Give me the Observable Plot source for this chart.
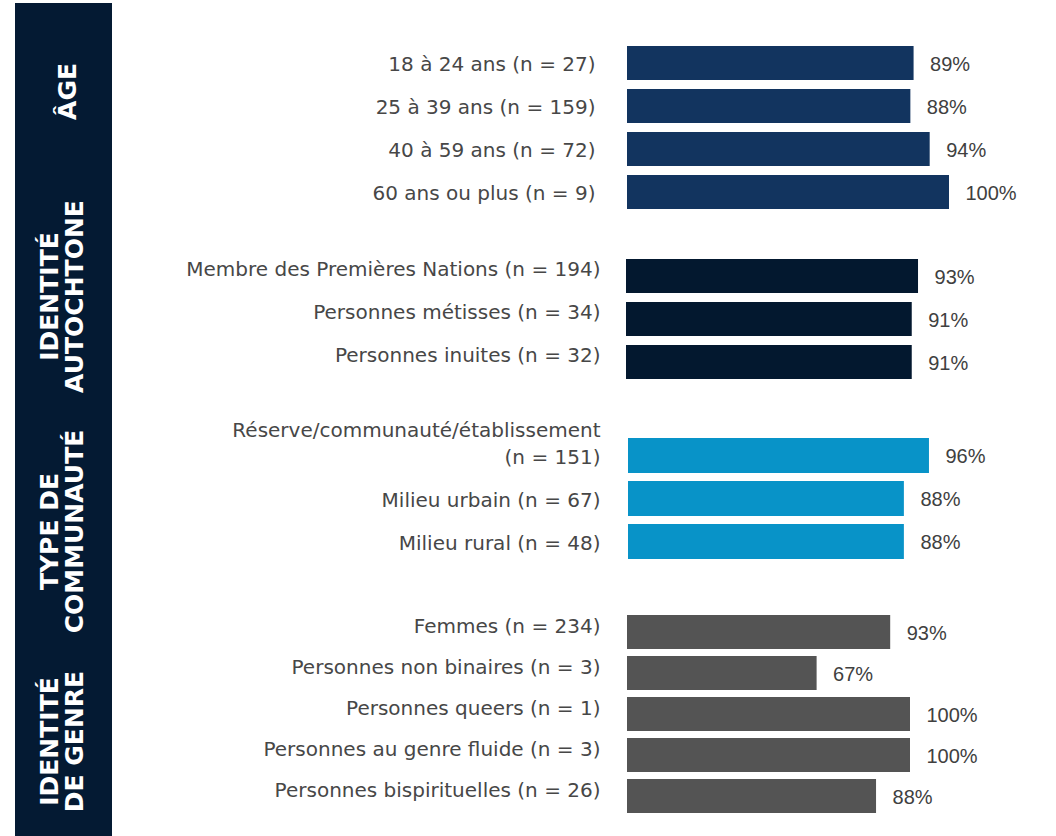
<!DOCTYPE html>
<html>
<head>
<meta charset="utf-8">
<script src="https://cdn.jsdelivr.net/npm/d3@7"></script>
<script src="https://cdn.jsdelivr.net/npm/@observablehq/plot@0.6"></script>
<style>
  html, body { margin: 0; padding: 0; background: #ffffff; }
  #chart { position: relative; width: 1056px; height: 836px; overflow: hidden; }
  #chart svg { display: block; max-width: none; }
</style>
</head>
<body>
<div id="chart"></div>
<script>
// ---------- data ----------
const groupTitles = ["ÂGE", "IDENTITÉ\nAUTOCHTONE", "TYPE DE\nCOMMUNAUTÉ", "IDENTITÉ\nDE GENRE"];

const ageLabels = ["18 à 24 ans (n = 27)", "25 à 39 ans (n = 159)", "40 à 59 ans (n = 72)", "60 ans ou plus (n = 9)"];
const ageValues = [0.89, 0.88, 0.94, 1.00];

const identityLabels = ["Membre des Premières Nations (n = 194)", "Personnes métisses (n = 34)", "Personnes inuites (n = 32)"];
const identityValues = [0.93, 0.91, 0.91];

const communityLabels = ["Réserve/communauté/établissement\n(n = 151)", "Milieu urbain (n = 67)", "Milieu rural (n = 48)"];
const communityValues = [0.96, 0.88, 0.88];

const genderLabels = ["Femmes (n = 234)", "Personnes non binaires (n = 3)", "Personnes queers (n = 1)", "Personnes au genre fluide (n = 3)", "Personnes bispirituelles (n = 26)"];
const genderValues = [0.93, 0.67, 1.00, 1.00, 0.88];

// ---------- layout / style ----------
const groups = [
  {labels: ageLabels, values: ageValues, color: "#12345f", x0: 627, x100: 949, first: 63.3, last: 192.5, labelRight: 595, labelDy: -1, lineAnchor: "middle"},
  {labels: identityLabels, values: identityValues, color: "#03182f", x0: 626, x100: 940, first: 276, last: 362.5, labelRight: 600, labelDy: -9, lineAnchor: "middle"},
  {labels: communityLabels, values: communityValues, color: "#0893c8", x0: 628, x100: 941.5, first: 455.5, last: 541.5, labelRight: 600, labelDy: 8, lineAnchor: "bottom"},
  {labels: genderLabels, values: genderValues, color: "#545454", x0: 627, x100: 910, first: 631, last: 797.5, labelRight: 600, labelDy: -8, lineAnchor: "middle"}
];
const barHeight = 34.5;
const titleLayout = [
  {x: 67, y: 91},
  {x: 61.5, y: 296},
  {x: 61.5, y: 531},
  {x: 61.5, y: 741}
];

const W = 1056, H = 836;
const chart = document.getElementById("chart");

// frame: dark band + rotated group titles (base SVG)
const base = Plot.plot({
  width: W, height: H, margin: 0,
  style: {background: "#ffffff"},
  x: {type: "identity"}, y: {type: "identity"},
  marks: [
    Plot.rect([0], {x1: () => 15, x2: () => 112, y1: () => 3, y2: () => H, fill: "#041a33"}),
    Plot.text(groupTitles, {
      x: (d, i) => titleLayout[i].x,
      y: (d, i) => titleLayout[i].y,
      text: d => d,
      rotate: -90,
      textAnchor: "middle",
      lineAnchor: "middle",
      lineHeight: 1,
      fontFamily: "DejaVu Sans",
      fontWeight: "bold",
      fontSize: 25,
      fill: "#ffffff"
    })
  ]
});
chart.appendChild(base);

// one plot per group (each has its own x scale); its marks are moved into the base SVG
for (const g of groups) {
  const data = g.labels.map((label, i) => ({label, value: g.values[i]}));
  const n = g.labels.length;
  const step = (g.last - g.first) / (n - 1);
  const pI = 1 - barHeight / step;
  const p = Plot.plot({
    width: W, height: H, margin: 0,
    x: {domain: [0, 1], range: [g.x0, g.x100], axis: null},
    y: {type: "band", domain: g.labels, range: [g.first - step / 2, g.last + step / 2],
        paddingInner: pI, paddingOuter: pI / 2, axis: null},
    marks: [
      Plot.barX(data, {x: "value", y: "label", fill: g.color}),
      Plot.text(data, {
        x: () => 0, y: "label", text: "label",
        textAnchor: "end", dx: g.labelRight - g.x0, dy: g.labelDy,
        lineAnchor: g.lineAnchor, lineHeight: 1.36,
        fontFamily: "DejaVu Sans", fontSize: 20, fill: "#474747"
      }),
      Plot.text(data, {
        x: "value", y: "label", text: d => Math.round(d.value * 100) + "%",
        textAnchor: "start", dx: 16, dy: 1,
        fontFamily: "Liberation Sans", fontSize: 20, fill: "#404040"
      })
    ]
  });
  for (const child of Array.from(p.childNodes)) {
    if (child.nodeName.toLowerCase() !== "style") base.appendChild(child);
  }
}
</script>
</body>
</html>
